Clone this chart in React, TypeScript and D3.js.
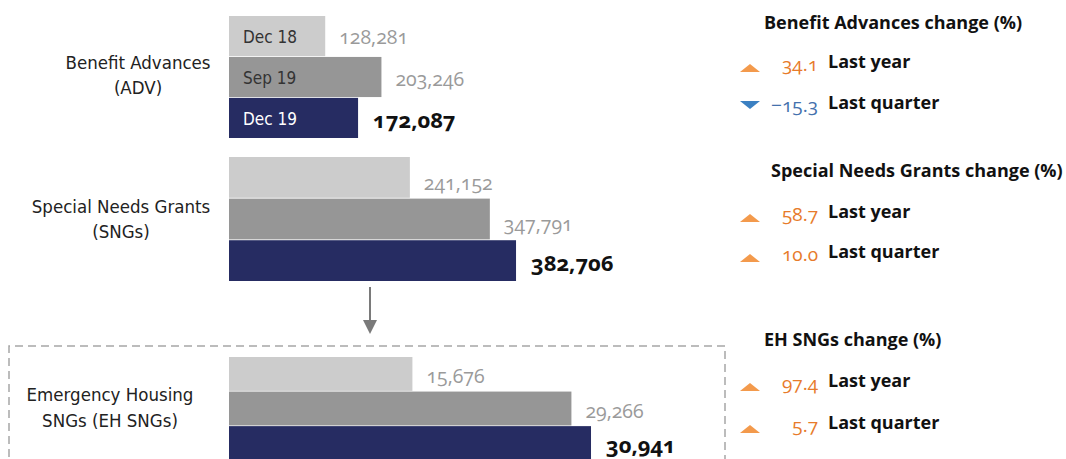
import React, {useEffect, useRef} from "react";
import * as d3 from "d3";

const periods = ["Dec 18", "Sep 19", "Dec 19"];
const advValues = [128281, 203246, 172087];
const sngValues = [241152, 347791, 382706];
const ehValues = [15676, 29266, 30941];
const groupNames = [["Benefit Advances", "(ADV)"], ["Special Needs Grants", "(SNGs)"], ["Emergency Housing", "SNGs (EH SNGs)"]];

const changeTitles = ["Benefit Advances change (%)", "Special Needs Grants change (%)", "EH SNGs change (%)"];
const changeLabels = ["Last year", "Last quarter"];
const advChange = [34.1, -15.3];
const sngChange = [58.7, 10.0];
const ehChange = [97.4, 5.7];

const W = 1066, H = 459;
const barColors = ["#cccccc", "#969696", "#262c62"];
const up = "#f39a4c", upText = "#e77b2b";
const down = "#3b80c2", downText = "#4471ad";
const narrow = "'Liberation Sans Narrow', 'DejaVu Sans Condensed', Roboto, sans-serif";
const humanist = "'Open Sans', Lato, sans-serif";

export default function App() {
  const svgRef = useRef<SVGSVGElement>(null);

  useEffect(() => {
    const svg = d3.select(svgRef.current);
    svg.selectAll("*").remove();

    const x0 = 229;
    const xMain = d3.scaleLinear().domain([0, 400000]).range([0, 300]);
    const xEh = d3.scaleLinear().domain([0, 40000]).range([0, 468]);
    const fmt = d3.format(",");

    const groups = [
      {values: advValues, x: xMain, y: [16, 138], labelX: 138, labelY: [69, 94], dy: [0, 1, 1]},
      {values: sngValues, x: xMain, y: [157, 281], labelX: 121, labelY: [213, 238], dy: [5, 4, 1]},
      {values: ehValues, x: xEh, y: [357, 460], labelX: 110, labelY: [401, 427], dy: [2, 2, 1]},
    ];

    // arrow between SNGs and EH SNGs
    svg.append("line")
      .attr("x1", 370).attr("x2", 370)
      .attr("y1", 287).attr("y2", 321)
      .attr("stroke", "#7a7a7a").attr("stroke-width", 2);
    svg.append("path")
      .attr("d", "M363,320 L377,320 L370,334 Z")
      .attr("fill", "#7a7a7a");

    // dashed box around EH SNGs
    svg.append("path")
      .attr("d", "M9,470 L9,346 L725,346 L725,470")
      .attr("fill", "none")
      .attr("stroke", "#a6a6a6")
      .attr("stroke-width", 1.5)
      .attr("stroke-dasharray", "8,5");

    groups.forEach((g, gi) => {
      const y = d3.scaleBand().domain(periods).range(g.y).paddingInner(0.02);
      const grp = svg.append("g");

      grp.selectAll("rect")
        .data(g.values)
        .join("rect")
        .attr("x", x0)
        .attr("y", (d, i) => y(periods[i])!)
        .attr("width", (d) => g.x(d))
        .attr("height", y.bandwidth())
        .attr("fill", (d, i) => barColors[i]);

      grp.selectAll("text.val")
        .data(g.values)
        .join("text")
        .attr("class", "val")
        .attr("x", (d, i) => x0 + g.x(d) + (i === 2 ? 15 : 14))
        .attr("y", (d, i) => y(periods[i])! + y.bandwidth() / 2 + g.dy[i])
        .attr("dominant-baseline", "central")
        .style("font-family", humanist)
        .style("font-variant-numeric", "oldstyle-nums")
        .style("font-size", (d, i) => i === 2 ? "22px" : "19.5px")
        .style("font-weight", (d, i) => i === 2 ? 700 : 400)
        .attr("fill", (d, i) => i === 2 ? "#111" : "#9a9a9a")
        .text((d) => fmt(d));

      if (gi === 0) {
        grp.selectAll("text.per")
          .data(periods)
          .join("text")
          .attr("class", "per")
          .attr("x", x0 + 14)
          .attr("y", (d) => y(d)! + y.bandwidth() / 2 + 1)
          .attr("dominant-baseline", "central")
          .style("font-family", narrow)
          .style("font-size", "17px")
          .attr("fill", (d, i) => i === 2 ? "#fff" : "#333")
          .text((d) => d);
      }

      grp.selectAll("text.name")
        .data(groupNames[gi])
        .join("text")
        .attr("class", "name")
        .attr("x", g.labelX)
        .attr("y", (d, i) => g.labelY[i])
        .attr("text-anchor", "middle")
        .style("font-family", narrow)
        .style("font-size", "18.5px")
        .attr("fill", "#222")
        .text((d) => d);
    });

    // change panels
    const panels = [
      {vals: advChange, titleX: 764, titleY: 22, rows: [62, 103]},
      {vals: sngChange, titleX: 771, titleY: 170, rows: [212, 252]},
      {vals: ehChange, titleX: 764, titleY: 339, rows: [381, 423]},
    ];
    const chg = d3.format(".1f");

    panels.forEach((p, pi) => {
      const grp = svg.append("g");
      grp.append("text")
        .attr("x", p.titleX).attr("y", p.titleY)
        .attr("dominant-baseline", "central")
        .style("font-family", humanist)
        .style("font-size", "18px")
        .style("font-weight", 700)
        .attr("fill", "#111")
        .text(changeTitles[pi]);

      p.vals.forEach((v, ri) => {
        const ry = p.rows[ri];
        const isUp = v >= 0;
        const tri = isUp
          ? `M740,${ry + 10} L750,${ry + 2} L760,${ry + 10} Z`
          : `M740,${ry - 2} L760,${ry - 2} L750,${ry + 6} Z`;
        grp.append("path").attr("d", tri).attr("fill", isUp ? up : down);

        grp.append("text")
          .attr("x", 818).attr("y", ry + 2)
          .attr("text-anchor", "end")
          .attr("dominant-baseline", "central")
          .style("font-family", humanist)
          .style("font-variant-numeric", "oldstyle-nums")
          .style("font-size", "19px")
          .attr("fill", isUp ? upText : downText)
          .text(chg(v));

        grp.append("text")
          .attr("x", 828).attr("y", ry - 1)
          .attr("dominant-baseline", "central")
          .style("font-family", humanist)
          .style("font-size", "18px")
          .style("font-weight", 700)
          .attr("fill", "#111")
          .text(changeLabels[ri]);
      });
    });
  }, []);

  return (
    <svg ref={svgRef} width={W} height={H}
      style={{position: "absolute", left: 0, top: 0, background: "#fff"}} />
  );
}
